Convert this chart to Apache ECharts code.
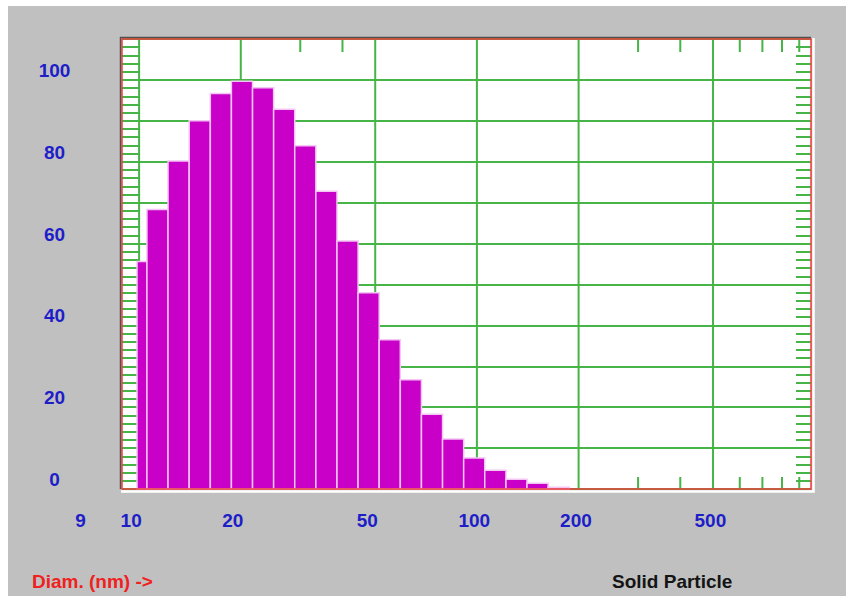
<!DOCTYPE html>
<html>
<head>
<meta charset="utf-8">
<script src="https://cdn.jsdelivr.net/npm/echarts@6/dist/echarts.min.js"></script>
<style>
  html, body { margin: 0; padding: 0; background: #ffffff; width: 846px; height: 596px; overflow: hidden; }
  #chart { position: absolute; left: 8px; top: 6px; width: 838px; height: 590px; }
</style>
</head>
<body>
<div id="chart"></div>
<script>
// Particle size distribution: log-spaced diameter bins (nm) and relative intensity
const binEdges = [9.86, 10.55, 12.18, 14.07, 16.25, 18.76, 21.67, 25.02, 28.89, 33.36, 38.53,
                  44.49, 51.38, 59.33, 68.52, 79.13, 91.38, 105.5, 121.9, 140.7, 162.5, 187.7];
const intensity = [55.6, 68.3, 80.2, 90.0, 96.7, 99.7, 98.1, 92.8, 83.9, 72.8, 60.6,
                   48.0, 36.5, 26.7, 18.3, 12.2, 7.6, 4.6, 2.4, 1.4, 0.4];

// Diameter axis: range, grid lines, minor ticks and printed labels
const xRange = [8.9, 975];
const xMajorValues = [10, 20, 50, 100, 200, 500];
const xMinorValues = [30, 40, 300, 400, 600, 700, 800, 900];
const xLabelValues = [9, 10, 20, 50, 100, 200, 500];

// Intensity axis
const yRange = [0, 110];
const yStep = 10;
const yLabelValues = [0, 20, 40, 60, 80, 100];

const GREEN = '#46b446';
const BLUE = '#1e1ec8';
const FONT = 'bold 19px "Liberation Sans", Arial, sans-serif';

const chart = echarts.init(document.getElementById('chart'), null, { renderer: 'svg' });

const barData = intensity.map((v, i) => [binEdges[i], binEdges[i + 1], v]);

const option = {
  backgroundColor: '#c0c0c0',
  animation: false,
  grid: {
    left: 114, right: 35, top: 33, bottom: 107,
    show: true, backgroundColor: '#ffffff', borderWidth: 0
  },
  xAxis: {
    type: 'log', logBase: 10, min: xRange[0], max: xRange[1],
    axisLine: { show: false }, axisTick: { show: false },
    axisLabel: { show: false }, splitLine: { show: false }
  },
  yAxis: [
    {
      type: 'value', position: 'left', min: yRange[0], max: yRange[1], interval: yStep,
      axisLine: { show: false },
      axisTick: { show: true, inside: true, length: 17, lineStyle: { color: GREEN, width: 2 } },
      minorTick: { show: true, splitNumber: 5, length: 17, lineStyle: { color: GREEN, width: 2 } },
      splitLine: { show: true, lineStyle: { color: GREEN, width: 2 } },
      axisLabel: {
        margin: 67.5, align: 'center', verticalAlign: 'bottom', lineHeight: 19,
        color: BLUE, fontFamily: '"Liberation Sans", Arial, sans-serif',
        fontWeight: 'bold', fontSize: 19,
        formatter: v => (yLabelValues.indexOf(v) >= 0 ? String(v) : '')
      }
    },
    {
      type: 'value', position: 'right', min: yRange[0], max: yRange[1], interval: yStep,
      axisLine: { show: false },
      axisTick: { show: true, inside: true, length: 15, lineStyle: { color: GREEN, width: 2 } },
      minorTick: { show: true, splitNumber: 5, length: 15, lineStyle: { color: GREEN, width: 2 } },
      splitLine: { show: false },
      axisLabel: { show: false }
    }
  ],
  graphic: [
    { type: 'text', x: 24, y: 575, style: { text: 'Diam. (nm) ->', font: FONT, fill: '#f02020', verticalAlign: 'middle' } },
    { type: 'text', x: 604, y: 575, style: { text: 'Solid Particle', font: FONT, fill: '#141414', verticalAlign: 'middle' } }
  ],
  series: [
    {
      // vertical grid lines at the major diameters
      type: 'custom', silent: true, z: 1,
      data: xMajorValues.map(v => [v, 0]),
      renderItem(params, api) {
        const cs = params.coordSys;
        const x = api.coord([api.value(0), yRange[0]])[0];
        return { type: 'line', shape: { x1: x, y1: cs.y, x2: x, y2: cs.y + cs.height },
                 style: { stroke: GREEN, lineWidth: 2 } };
      }
    },
    {
      // minor diameter ticks along the top and bottom edges
      type: 'custom', silent: true, z: 1,
      data: xMinorValues.map(v => [v, 0]),
      renderItem(params, api) {
        const cs = params.coordSys;
        const x = api.coord([api.value(0), yRange[0]])[0];
        const top = cs.y, bot = cs.y + cs.height;
        return { type: 'group', children: [
          { type: 'line', shape: { x1: x, y1: top, x2: x, y2: top + 13 }, style: { stroke: GREEN, lineWidth: 2 } },
          { type: 'line', shape: { x1: x, y1: bot - 12, x2: x, y2: bot }, style: { stroke: GREEN, lineWidth: 2 } }
        ] };
      }
    },
    {
      // histogram bars
      type: 'custom', silent: true, z: 3,
      encode: { x: [0, 1], y: 2 },
      data: barData,
      renderItem(params, api) {
        const p0 = api.coord([api.value(0), api.value(2)]);
        const p1 = api.coord([api.value(1), yRange[0]]);
        return { type: 'rect',
                 shape: { x: p0[0], y: p0[1], width: p1[0] - p0[0], height: p1[1] - p0[1] },
                 style: { fill: '#c800c8', stroke: '#f4c6f4', lineWidth: 1.5 } };
      }
    },
    {
      // diameter labels under the plot
      type: 'custom', silent: true, z: 5,
      data: xLabelValues.map(v => [v, 0]),
      renderItem(params, api) {
        const cs = params.coordSys;
        const v = api.value(0);
        const x = api.coord([v, yRange[0]])[0] + (v < 10 ? -48.5 : -18.5);
        return { type: 'text', x: x, y: cs.y + cs.height + 31,
                 style: { text: String(v), font: FONT, fill: BLUE, align: 'left', verticalAlign: 'middle' } };
      }
    },
    {
      // sunken plot frame
      type: 'custom', silent: true, z: 10,
      data: [[xRange[0], yRange[0]]],
      renderItem(params) {
        const cs = params.coordSys;
        const l = cs.x, t = cs.y, r = cs.x + cs.width, b = cs.y + cs.height;
        return { type: 'group', children: [
          { type: 'polyline', shape: { points: [[l - 1.5, b], [l - 1.5, t - 1.5], [r, t - 1.5]] },
            style: { stroke: '#505050', lineWidth: 1.5, fill: null } },
          { type: 'polyline', shape: { points: [[l - 1, b + 2.5], [r + 2.5, b + 2.5], [r + 2.5, t - 1]] },
            style: { stroke: '#ffffff', lineWidth: 2.5, fill: null } },
          { type: 'rect', shape: { x: l, y: t, width: cs.width, height: cs.height },
            style: { stroke: '#f03c3c', lineWidth: 1.5, fill: null } }
        ] };
      }
    }
  ]
};

chart.setOption(option);
</script>
</body>
</html>
